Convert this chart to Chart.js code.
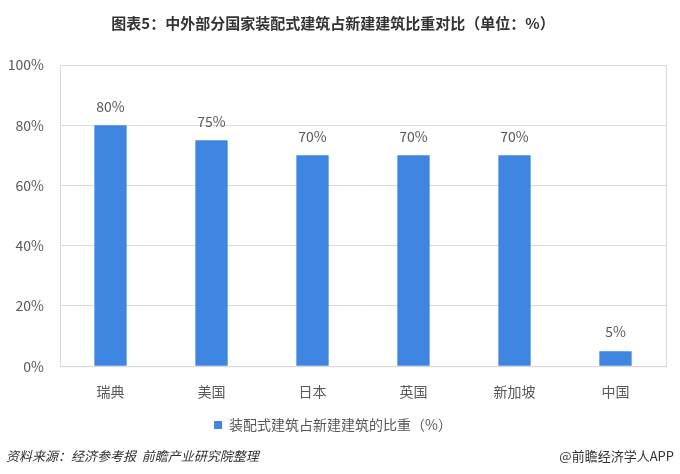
<!DOCTYPE html>
<html>
<head>
<meta charset="utf-8">
<script src="https://cdn.jsdelivr.net/npm/chart.js@4/dist/chart.umd.min.js"></script>
<style>
  html, body { margin: 0; padding: 0; background: #fff; }
  #wrap { width: 680px; height: 474px; position: relative; }
</style>
</head>
<body>
<div id="wrap"><canvas id="chart"></canvas></div>
<script>
const countries = ["瑞典", "美国", "日本", "英国", "新加坡", "中国"];
const shares = [80, 75, 70, 70, 70, 5];
const yTicks = [0, 20, 40, 60, 80, 100];

const FONT = "'Noto Sans CJK SC', 'Noto Sans', sans-serif";

// labels over bars + border round the plot + footer lines
const extras = {
  id: "extras",
  afterDraw(chart) {
    const c = chart.ctx;
    const a = chart.chartArea;
    c.save();
    c.strokeStyle = "#d9d9d9";
    c.lineWidth = 1;
    c.strokeRect(a.left + 0.5, a.top + 0.5, a.right - a.left, a.bottom - a.top);

    c.fillStyle = "#595959";
    c.font = "14px " + FONT;
    c.textAlign = "center";
    c.textBaseline = "bottom";
    chart.getDatasetMeta(0).data.forEach((bar, i) => {
      c.fillText(shares[i] + "%", bar.x, bar.y - 12);
    });

    c.fillStyle = "#333";
    c.textBaseline = "middle";
    c.textAlign = "left";
    c.font = "italic 13px " + FONT;
    c.fillText("资料来源：经济参考报  前瞻产业研究院整理", 6, 456);
    c.textAlign = "right";
    c.font = "13px " + FONT;
    c.fillText("@前瞻经济学人APP", 674, 456);
    c.restore();
  }
};

new Chart(document.getElementById("chart"), {
  type: "bar",
  data: {
    labels: countries,
    datasets: [{
      label: "装配式建筑占新建建筑的比重（%）",
      data: shares,
      backgroundColor: "#3f86e0",
      borderWidth: 0,
      barPercentage: 0.5,
      categoryPercentage: 0.64
    }]
  },
  options: {
    responsive: true,
    maintainAspectRatio: false,
    animation: false,
    layout: { padding: { left: 0, right: 14, top: 0, bottom: 32 } },
    scales: {
      x: {
        grid: { display: false },
        border: { color: "#d9d9d9" },
        ticks: { color: "#595959", font: { size: 14, family: FONT }, padding: 9 }
      },
      y: {
        min: 0,
        max: 100,
        afterBuildTicks(scale) { scale.ticks = yTicks.map(v => ({ value: v })); },
        afterFit(scale) { scale.width = 60; },
        grid: { color: "#d9d9d9", drawTicks: false },
        border: { color: "#d9d9d9" },
        ticks: {
          color: "#595959",
          font: { size: 14, family: FONT },
          padding: 16,
          callback: v => v + "%"
        }
      }
    },
    plugins: {
      title: {
        display: true,
        text: "图表5：中外部分国家装配式建筑占新建建筑比重对比（单位：%）",
        color: "#333",
        font: { size: 15, weight: "bold", family: FONT },
        padding: { top: 14, bottom: 33 }
      },
      legend: {
        position: "bottom",
        labels: {
          color: "#595959",
          font: { size: 14, family: FONT },
          boxWidth: 8,
          boxHeight: 8,
          padding: 9
        }
      },
      tooltip: { enabled: false }
    }
  },
  plugins: [extras]
});
</script>
</body>
</html>
